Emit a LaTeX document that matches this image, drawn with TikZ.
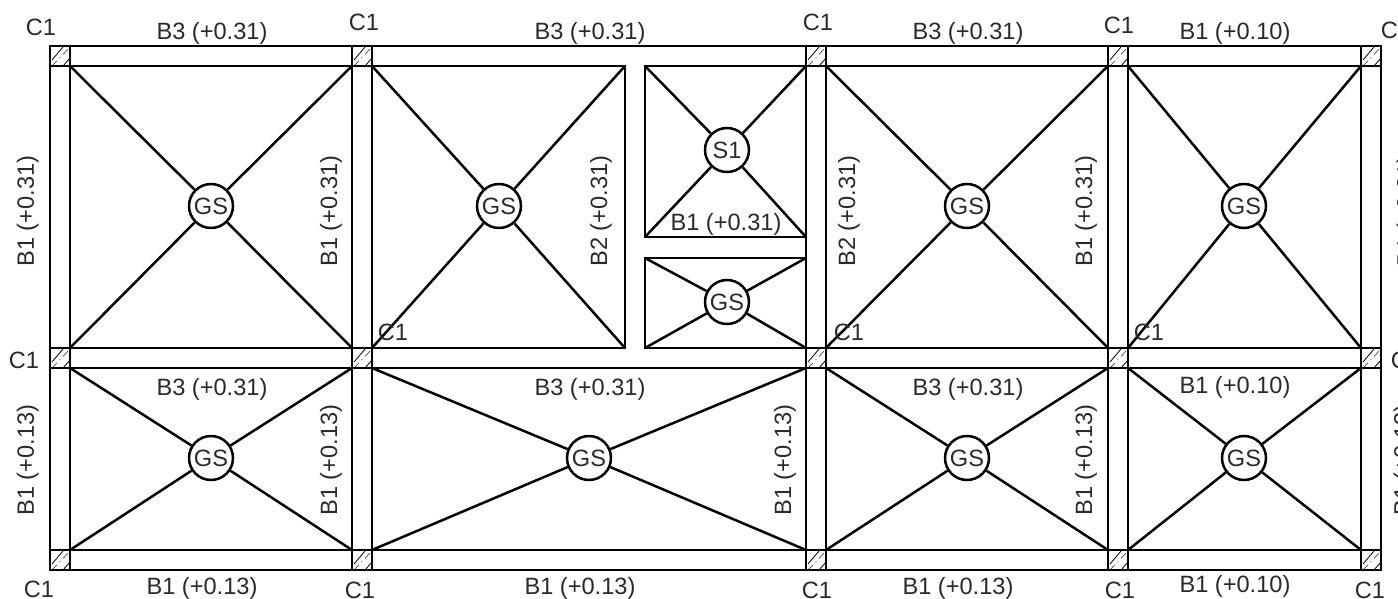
\documentclass[tikz,border=0pt]{standalone}
\usepackage{fontspec}
\setmainfont{Liberation Sans}
\definecolor{inkc}{HTML}{2A2A2A}
\tikzset{
  x=1pt,y=-1pt,
  wall/.style={draw=black,line width=2.8pt,line cap=butt},
  diag/.style={draw=black,line width=2.5pt},
  hatchline/.style={draw=black,line width=0.8pt},
  hatchdash/.style={draw=black!70,line width=0.7pt,dash pattern=on 7pt off 4pt on 1pt off 4pt},
  lab/.style={inner sep=0pt,text=inkc,font=\fontsize{23.6}{28}\selectfont,text height=17pt,text depth=0pt},
  vlab/.style={lab,rotate=90},
  slab/.style={circle,draw=black,line width=2.5pt,minimum size=44pt,inner sep=0pt,text=inkc,font=\fontsize{23.6}{28}\selectfont},
}
\begin{document}
\begin{tikzpicture}
\useasboundingbox (0,0) rectangle (1398,599);
% column hatching
\foreach \cx in {50,352,806,1108,1361}
  \foreach \cy in {46,348,550}{
    \begin{scope}[shift={(\cx,\cy)}]
      \path[hatchline] (2,14) -- (13,1);
      \path[hatchdash] (2,20) -- (20,1);
      \path[hatchline] (13,20) -- (20,12);
    \end{scope}
  }
% beam lines
\foreach \vx in {50,70,352,372,806,826,1108,1128,1361,1381}
  \path[wall] (\vx,44.6) -- (\vx,571.4);
\foreach \hy in {46,368,550,570}
  \path[wall] (48.6,\hy) -- (1382.4,\hy);
\foreach \hy in {66,348}{
  \path[wall] (48.6,\hy) -- (626.4,\hy);
  \path[wall] (643.6,\hy) -- (1382.4,\hy);
}
\path[wall] (625,66) -- (625,348);
\path[wall] (645,66) -- (645,237) -- (806,237);
\path[wall] (645,348) -- (645,258) -- (806,258);
% slab nodes
\node[slab] (g1) at (211,206) {GS};
\node[slab] (g2) at (499,206) {GS};
\node[slab] (s1) at (727,150) {S1};
\node[slab] (g3) at (727,302) {GS};
\node[slab] (g4) at (967,206) {GS};
\node[slab] (g5) at (1244,206) {GS};
\node[slab] (g6) at (211,458) {GS};
\node[slab] (g7) at (589,458) {GS};
\node[slab] (g8) at (967,458) {GS};
\node[slab] (g9) at (1244,458) {GS};
% slab diagonals
\foreach \n/\xa/\ya/\xb/\yb in {g1/70/66/352/348,g2/372/66/625/348,s1/645/66/806/237,g3/645/258/806/348,g4/826/66/1108/348,g5/1128/66/1361/348,g6/70/368/352/550,g7/372/368/806/550,g8/826/368/1108/550,g9/1128/368/1361/550}{
  \coordinate (a) at (\xa,\ya);
  \coordinate (b) at (\xb,\ya);
  \coordinate (c) at (\xa,\yb);
  \coordinate (d) at (\xb,\yb);
  \path[diag] (a) -- (\n);
  \path[diag] (b) -- (\n);
  \path[diag] (c) -- (\n);
  \path[diag] (d) -- (\n);
}
% horizontal labels
\foreach \t/\px/\py in {
  C1/41/27,C1/364/22,C1/818/22,C1/1119/25,C1/1396/30,
  C1/24/360,C1/1406/360,
  C1/393/332,C1/849/332,C1/1149/332,
  C1/39/589,C1/360/590,C1/817/590,C1/1120/590,C1/1370/590,
  B3 (+0.31)/212/31,B3 (+0.31)/590/31,B3 (+0.31)/968/31,B1 (+0.10)/1235/31,
  B1 (+0.31)/726/222,
  B3 (+0.31)/212/387,B3 (+0.31)/590/387,B3 (+0.31)/968/387,B1 (+0.10)/1235/385,
  B1 (+0.13)/202/586,B1 (+0.13)/580/586,B1 (+0.13)/958/586,B1 (+0.10)/1235/584}
  \node[lab] at (\px,\py) {\t};
% rotated labels
\foreach \t/\px/\py in {
  B1 (+0.31)/25.5/211,B1 (+0.31)/328.5/211,B2 (+0.31)/598.5/211,B2 (+0.31)/846.5/211,B1 (+0.31)/1083.5/211,B1 (+0.31)/1405/211,
  B1 (+0.13)/25.5/460,B1 (+0.13)/328.5/460,B1 (+0.13)/782.5/460,B1 (+0.13)/1083.5/460,B1 (+0.13)/1402/460}
  \node[vlab] at (\px,\py) {\t};
\end{tikzpicture}
\end{document}
